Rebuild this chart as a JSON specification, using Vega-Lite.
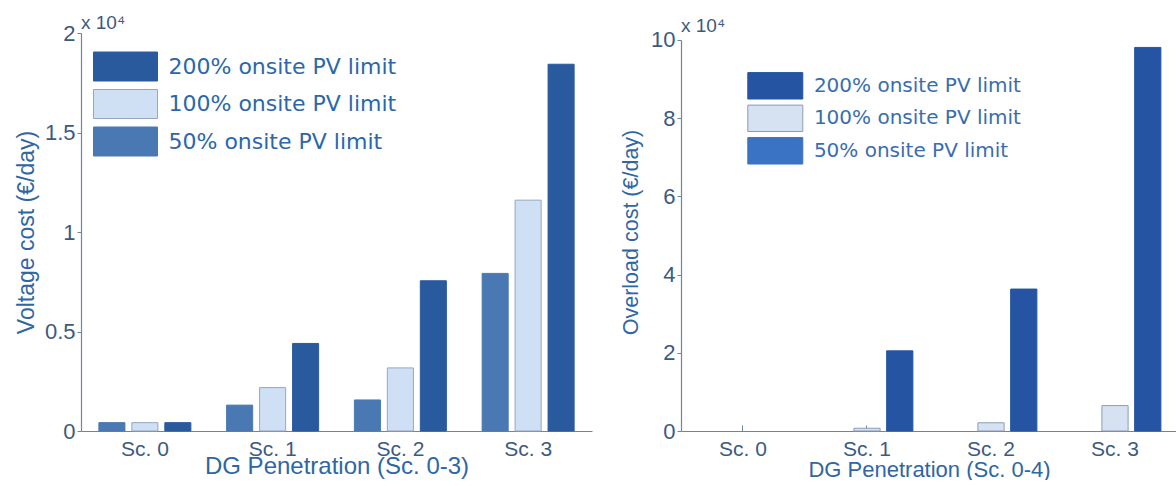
{
  "$schema": "https://vega.github.io/schema/vega-lite/v6.json",
  "background": "white",
  "padding": {"left": 15, "top": 14, "right": 0, "bottom": 0},
  "spacing": 28,
  "config": {
    "view": {"stroke": null},
    "axis": {
      "labelFont": "Liberation Sans",
      "titleFont": "Liberation Sans",
      "titleFontWeight": "normal",
      "grid": false,
      "labelColor": "#3b5a82",
      "titleColor": "#2f66a4",
      "domainColor": "#6e84a3",
      "tickColor": "#6e84a3",
      "domainWidth": 1.2
    },
    "title": {"font": "Liberation Sans", "fontWeight": "normal", "color": "#3b5a82", "fontSize": 19, "anchor": "start", "frame": "group"}
  },
  "hconcat": [
    {
      "width": 511,
      "height": 398,
      "title": {"text": "x 10⁴", "offset": -11},
      "data": {"values": [
        {"scenario": "Sc. 0", "limit": "50% onsite PV limit", "cost": 420},
        {"scenario": "Sc. 0", "limit": "100% onsite PV limit", "cost": 420},
        {"scenario": "Sc. 0", "limit": "200% onsite PV limit", "cost": 420},
        {"scenario": "Sc. 1", "limit": "50% onsite PV limit", "cost": 1300},
        {"scenario": "Sc. 1", "limit": "100% onsite PV limit", "cost": 2180},
        {"scenario": "Sc. 1", "limit": "200% onsite PV limit", "cost": 4400},
        {"scenario": "Sc. 2", "limit": "50% onsite PV limit", "cost": 1560},
        {"scenario": "Sc. 2", "limit": "100% onsite PV limit", "cost": 3170},
        {"scenario": "Sc. 2", "limit": "200% onsite PV limit", "cost": 7550},
        {"scenario": "Sc. 3", "limit": "50% onsite PV limit", "cost": 7920},
        {"scenario": "Sc. 3", "limit": "100% onsite PV limit", "cost": 11600},
        {"scenario": "Sc. 3", "limit": "200% onsite PV limit", "cost": 18430}
      ]},
      "mark": {"type": "bar", "strokeWidth": 1},
      "encoding": {
        "x": {
          "field": "scenario", "type": "nominal",
          "sort": ["Sc. 0", "Sc. 1", "Sc. 2", "Sc. 3"],
          "scale": {"paddingInner": 0.28, "paddingOuter": 0.14},
          "axis": {"title": "DG Penetration (Sc. 0-3)", "labelAngle": 0, "labelFontSize": 21, "titleFontSize": 24, "tickSize": -6, "labelPadding": 13, "titlePadding": -5}
        },
        "y": {
          "field": "cost", "type": "quantitative",
          "scale": {"domain": [0, 20000], "nice": false},
          "axis": {"title": "Voltage cost (€/day)", "values": [0, 5000, 10000, 15000, 20000], "labelExpr": "datum.value / 10000", "labelFontSize": 22, "titleFontSize": 23, "tickSize": 4, "labelPadding": 2, "titlePadding": 6}
        },
        "xOffset": {
          "field": "limit", "type": "nominal",
          "sort": ["50% onsite PV limit", "100% onsite PV limit", "200% onsite PV limit"],
          "scale": {"paddingInner": 0.21, "paddingOuter": 0}
        },
        "color": {
          "field": "limit", "type": "nominal",
          "scale": {"domain": ["200% onsite PV limit", "100% onsite PV limit", "50% onsite PV limit"], "range": ["#2a5a9e", "#cfe0f4", "#4a78b2"]},
          "legend": {"title": null, "orient": "none", "legendX": 12, "legendY": 18.5, "symbolType": "M-2.207,-1H2.207V1H-2.207Z", "symbolSize": 841, "symbolOffset": 17.5, "symbolStrokeWidth": 1, "labelFont": "DejaVu Sans", "labelFontSize": 22, "labelColor": "#2b67aa", "labelOffset": 28, "labelLimit": 500, "rowPadding": 3.5, "labelExpr": "datum.label == '50% onsite PV limit' ? '\u2007' + datum.label : datum.label"}
        },
        "stroke": {
          "field": "limit", "type": "nominal",
          "scale": {"domain": ["200% onsite PV limit", "100% onsite PV limit", "50% onsite PV limit"], "range": ["#2a5a9e", "#93a7c4", "#4a78b2"]},
          "legend": {"title": null, "orient": "none", "legendX": 12, "legendY": 18.5, "symbolType": "M-2.207,-1H2.207V1H-2.207Z", "symbolSize": 841, "symbolOffset": 17.5, "symbolStrokeWidth": 1, "labelFont": "DejaVu Sans", "labelFontSize": 22, "labelColor": "#2b67aa", "labelOffset": 28, "labelLimit": 500, "rowPadding": 3.5, "labelExpr": "datum.label == '50% onsite PV limit' ? '\u2007' + datum.label : datum.label"}
        }
      }
    },
    {
      "width": 496,
      "height": 398,
      "title": {"text": "x 10⁴", "offset": -7},
      "data": {"values": [
        {"scenario": "Sc. 0", "limit": "50% onsite PV limit", "cost": 0},
        {"scenario": "Sc. 0", "limit": "100% onsite PV limit", "cost": 0},
        {"scenario": "Sc. 0", "limit": "200% onsite PV limit", "cost": 0},
        {"scenario": "Sc. 1", "limit": "50% onsite PV limit", "cost": 0},
        {"scenario": "Sc. 1", "limit": "100% onsite PV limit", "cost": 700},
        {"scenario": "Sc. 1", "limit": "200% onsite PV limit", "cost": 20500},
        {"scenario": "Sc. 2", "limit": "50% onsite PV limit", "cost": 0},
        {"scenario": "Sc. 2", "limit": "100% onsite PV limit", "cost": 2100},
        {"scenario": "Sc. 2", "limit": "200% onsite PV limit", "cost": 36300},
        {"scenario": "Sc. 3", "limit": "50% onsite PV limit", "cost": 0},
        {"scenario": "Sc. 3", "limit": "100% onsite PV limit", "cost": 6500},
        {"scenario": "Sc. 3", "limit": "200% onsite PV limit", "cost": 98100}
      ]},
      "mark": {"type": "bar"},
      "encoding": {
        "x": {
          "field": "scenario", "type": "nominal",
          "sort": ["Sc. 0", "Sc. 1", "Sc. 2", "Sc. 3"],
          "scale": {"paddingInner": 0.26, "paddingOuter": 0.13},
          "axis": {"title": "DG Penetration (Sc. 0-4)", "labelAngle": 0, "labelFontSize": 21, "titleFontSize": 22, "tickSize": -6, "labelPadding": 13, "titlePadding": 0}
        },
        "y": {
          "field": "cost", "type": "quantitative",
          "scale": {"domain": [0, 101790], "nice": false},
          "axis": {"title": "Overload cost (€/day)", "values": [0, 20000, 40000, 60000, 80000, 100000], "labelExpr": "datum.value / 10000", "labelFontSize": 22, "titleFontSize": 21.5, "tickSize": 4, "labelPadding": 2, "titlePadding": 8, "domainDash": [391, 60]}
        },
        "xOffset": {
          "field": "limit", "type": "nominal",
          "sort": ["50% onsite PV limit", "100% onsite PV limit", "200% onsite PV limit"],
          "scale": {"paddingInner": 0.2, "paddingOuter": 0}
        },
        "strokeWidth": {"condition": {"test": "datum.cost == 0", "value": 0}, "value": 1},
        "color": {
          "field": "limit", "type": "nominal",
          "scale": {"domain": ["200% onsite PV limit", "100% onsite PV limit", "50% onsite PV limit"], "range": ["#2554a2", "#d6e2f1", "#3a72c4"]},
          "legend": {"title": null, "orient": "none", "legendX": 66, "legendY": 38.8, "symbolType": "M-2.083,-1H2.083V1H-2.083Z", "symbolSize": 697, "symbolOffset": 14.3, "symbolStrokeWidth": 1, "labelFont": "DejaVu Sans", "labelFontSize": 20, "labelColor": "#3a6db0", "labelOffset": 24.6, "labelLimit": 500, "rowPadding": 0.5, "labelExpr": "datum.label == '50% onsite PV limit' ? '\u2007' + datum.label : datum.label"}
        },
        "stroke": {
          "field": "limit", "type": "nominal",
          "scale": {"domain": ["200% onsite PV limit", "100% onsite PV limit", "50% onsite PV limit"], "range": ["#2554a2", "#8a9cb5", "#3a72c4"]},
          "legend": {"title": null, "orient": "none", "legendX": 66, "legendY": 38.8, "symbolType": "M-2.083,-1H2.083V1H-2.083Z", "symbolSize": 697, "symbolOffset": 14.3, "symbolStrokeWidth": 1, "labelFont": "DejaVu Sans", "labelFontSize": 20, "labelColor": "#3a6db0", "labelOffset": 24.6, "labelLimit": 500, "rowPadding": 0.5, "labelExpr": "datum.label == '50% onsite PV limit' ? '\u2007' + datum.label : datum.label"}
        }
      }
    }
  ],
  "resolve": {"scale": {"color": "independent", "stroke": "independent", "y": "independent", "x": "independent", "xOffset": "independent"}}
}
